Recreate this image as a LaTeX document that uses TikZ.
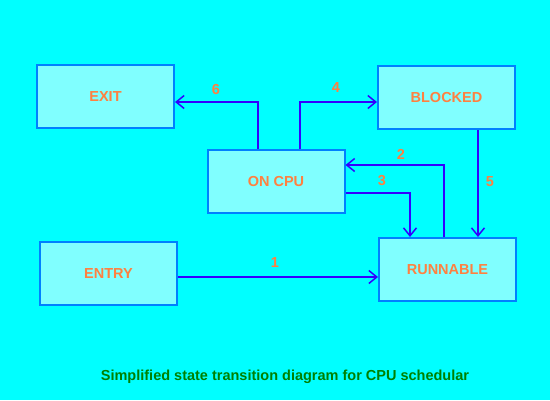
\documentclass[tikz,border=0pt]{standalone}
\usepackage{fontspec}
\setmainfont{Liberation Sans}
\usetikzlibrary{arrows.meta,calc}
\definecolor{bg}{HTML}{00FFFF}
\definecolor{boxfill}{HTML}{80FFFF}
\definecolor{boxline}{HTML}{0080FF}
\definecolor{arrowc}{HTML}{3300FF}
\definecolor{txt}{HTML}{FF8040}
\definecolor{cap}{HTML}{008000}
\tikzset{
  state/.style={draw=boxline, fill=boxfill, line width=2pt, minimum width=137pt, minimum height=63pt, inner sep=0pt, text=txt, font=\fontsize{14.5}{16}\selectfont\bfseries},
  conn/.style={draw=arrowc, line width=2pt, -{Straight Barb[length=8pt,width=13pt,line width=1.5pt]}},
  lbl/.style={text=txt, font=\fontsize{14.5}{16}\selectfont\bfseries, inner sep=0pt}
}
\begin{document}
\begin{tikzpicture}[x=1pt,y=-1pt]
\fill[bg] (0,0) rectangle (550,400);
\useasboundingbox (0,0) rectangle (550,400);
\node[state] (exit) at (105.5,96.5) {EXIT};
\node[state] (oncpu) at (276,181.5) {ON CPU};
\node[state] (blocked) at (446.5,97.5) {BLOCKED};
\node[state] (runnable) at (447.5,269.5) {RUNNABLE};
\node[state] (entry) at (108.5,273.5) {ENTRY};
% 6
\draw[conn] ([xshift=-18pt]oncpu.north) |- ([yshift=-5.5pt]exit.east);
% 4
\draw[conn] ([xshift=24pt]oncpu.north) |- ([yshift=-4.5pt]blocked.west);
% 2
\draw[conn] ([xshift=-3.5pt]runnable.north) |- ([yshift=16.5pt]oncpu.east);
% 3
\draw[conn] ([yshift=-11.5pt]oncpu.east) -| ([xshift=-37.5pt]runnable.north);
% 5
\draw[conn] ([xshift=31.5pt]blocked.south) -- ([xshift=30.5pt]runnable.north);
% 1
\draw[conn] ([yshift=-3.5pt]entry.east) -- ([yshift=-3.5pt]entry.east -| runnable.west);
\node[lbl] (l6) at (216,90) {6};
\node[lbl] (l4) at (336,88) {4};
\node[lbl] (l2) at (401,154) {2};
\node[lbl] (l3) at (382,181) {3};
\node[lbl] (l5) at (490,182) {5};
\node[lbl] (l1) at (275,263) {1};
\node[text=cap, font=\fontsize{14.5}{16}\selectfont\bfseries, inner sep=0pt] (caption) at (285,377) {Simplified state transition diagram for CPU schedular};
\end{tikzpicture}
\end{document}
